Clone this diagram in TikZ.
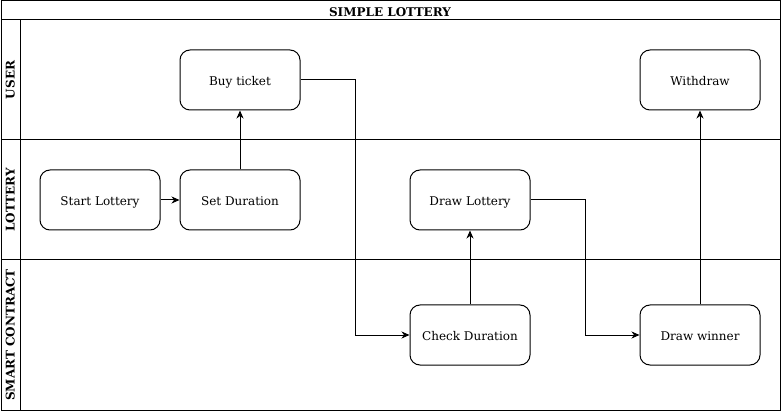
\documentclass[tikz,border=0pt]{standalone}
\usepackage{fontspec}
\setmainfont{DejaVu Serif}
\usetikzlibrary{arrows.meta}
\begin{document}
\begin{tikzpicture}[x=1pt,y=-1pt,line width=1pt,
  proc/.style={draw,rounded corners=10pt,minimum width=120pt,minimum height=60pt,inner sep=0pt,text height=11.5pt,text depth=0pt,font=\fontsize{12}{14}\selectfont},
  lanelbl/.style={rotate=90,text height=9pt,text depth=2pt,font=\bfseries\fontsize{12}{14}\selectfont},
  conn/.style={draw,line width=1pt,-{Stealth[length=8pt,width=7pt,inset=2.5pt]}}]
\useasboundingbox (0,0) rectangle (781,411);
\fill[white] (0,0) rectangle (781,411);
% frame
\draw (1,1) rectangle (780,410);
\draw (1,20) -- (780,20);
\draw (20,20) -- (20,410);
\draw (1,140) -- (780,140);
\draw (1,260) -- (780,260);
\node[font=\bfseries\fontsize{12}{14}\selectfont,text height=10pt,text depth=0pt] (title) at (390,12) {SIMPLE LOTTERY};
\node[lanelbl] (luser) at (11,80) {USER};
\node[lanelbl] (llot) at (11,200) {LOTTERY};
\node[lanelbl] (lsc) at (11,335) {SMART CONTRACT};
% nodes
\node[proc] (buy) at (240,80) {Buy ticket};
\node[proc] (withdraw) at (700,80) {Withdraw};
\node[proc] (start) at (100,200) {Start Lottery};
\node[proc] (setd) at (240,200) {Set Duration};
\node[proc] (drawl) at (470,200) {Draw Lottery};
\node[proc] (check) at (470,335) {Check Duration};
\node[proc] (winner) at (700,335) {Draw winner};
% edges
\path[conn] (start) -- (setd);
\path[conn] (setd) -- (buy);
\path[conn] (buy.east) -- (355,80) -- (355,335) -- (check.west);
\path[conn] (check) -- (drawl);
\path[conn] (drawl.east) -- (585,200) -- (585,335) -- (winner.west);
\path[conn] (winner) -- (withdraw);
\end{tikzpicture}
\end{document}
